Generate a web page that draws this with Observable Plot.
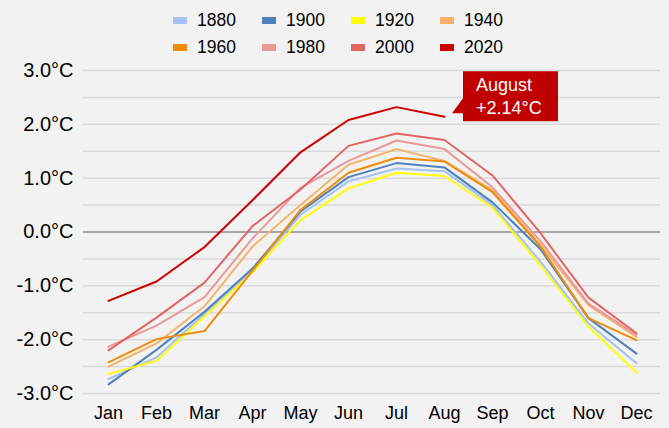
<!DOCTYPE html>
<html><head><meta charset="utf-8">
<script src="https://cdn.jsdelivr.net/npm/d3@7"></script>
<script src="https://cdn.jsdelivr.net/npm/@observablehq/plot@0.6"></script>
<style>
html,body{margin:0;padding:0;background:#f2f2f2;}
body{width:669px;height:428px;overflow:hidden;font-family:"Liberation Sans",Arial,sans-serif;}
#legend{height:58px;box-sizing:border-box;padding-top:7px;padding-left:173px;display:grid;grid-template-columns:repeat(4,89px);grid-auto-rows:27px;}
.item{display:flex;align-items:center;font-size:17.5px;color:#000;white-space:nowrap;}
.sw{width:14px;height:7px;margin-right:10px;flex:none;}
#chart svg{display:block;}
</style></head><body>
<div id="legend"></div>
<div id="chart"></div>
<script>
const months = ["Jan","Feb","Mar","Apr","May","Jun","Jul","Aug","Sep","Oct","Nov","Dec"];
const years = ["1880","1900","1920","1940","1960","1980","2000","2020"];
const colors = ["#a4c2f4","#4f81bd","#ffff00","#f6b26b","#ee8c0a","#ea9999","#e06666","#cc0000"];
const yTicks = [-3,-2,-1,0,1,2,3];
const gridVals = [-3,-2.5,-2,-1.5,-1,-0.5,0.5,1,1.5,2,2.5,3];

const v1880 = [-2.73,-2.33,-1.52,-0.72,0.32,0.94,1.18,1.13,0.50,-0.55,-1.70,-2.44];
const v1900 = [-2.83,-2.19,-1.48,-0.68,0.38,1.02,1.28,1.20,0.55,-0.32,-1.60,-2.26];
const v1920 = [-2.64,-2.39,-1.57,-0.75,0.22,0.81,1.10,1.04,0.45,-0.62,-1.76,-2.61];
const v1940 = [-2.50,-2.07,-1.38,-0.27,0.50,1.25,1.54,1.32,0.78,-0.24,-1.36,-1.95];
const v1960 = [-2.42,-1.99,-1.84,-0.72,0.41,1.10,1.38,1.31,0.74,-0.27,-1.60,-2.01];
const v1980 = [-2.13,-1.74,-1.21,-0.12,0.82,1.32,1.70,1.54,0.83,-0.17,-1.33,-1.91];
const v2000 = [-2.20,-1.59,-0.94,0.11,0.79,1.60,1.83,1.71,1.05,-0.02,-1.22,-1.88];
const v2020 = [-1.28,-0.92,-0.28,0.59,1.48,2.08,2.32,2.14];

const noteMonth = "Aug";
const noteValue = 2.14;
const noteLines = ["August","+2.14°C"];

const series = [v1880,v1900,v1920,v1940,v1960,v1980,v2000,v2020];
const data = years.flatMap((yr,i)=>series[i].map((v,j)=>({year:yr, month:months[j], value:v})));

// legend
const lg = document.getElementById("legend");
years.forEach((yr,i)=>{
  const it = document.createElement("div"); it.className="item";
  const sw = document.createElement("span"); sw.className="sw"; sw.style.background=colors[i];
  it.appendChild(sw); it.appendChild(document.createTextNode(yr)); lg.appendChild(it);
});

const annotation = Plot.text([{month:noteMonth, value:noteValue}], {
  x:"month", y:"value",
  render(index, scales, values) {
    const i = index[0]; const px = values.x[i], py = values.y[i];
    const g = d3.create("svg:g");
    const bx = px+19, by = py-45, bw = 95;
    g.append("path")
      .attr("d", `M${bx},${by}H${bx+bw}V${py+5}H${bx}V${py-3}L${px+8},${py-3}L${bx},${py-18}Z`)
      .attr("fill","#c00000");
    g.append("text").attr("x",bx+13).attr("y",py-25).attr("fill","#fff")
      .attr("text-anchor","start").attr("font-size",18).text(noteLines[0]);
    g.append("text").attr("x",bx+13).attr("y",py-2).attr("fill","#fff")
      .attr("text-anchor","start").attr("font-size",18).text(noteLines[1]);
    return g.node();
  }
});

const chart = Plot.plot({
  width:669, height:370,
  marginLeft:83, marginRight:9, marginTop:12, marginBottom:35,
  style:{background:"transparent", fontFamily:"'Liberation Sans', Arial, sans-serif", color:"#000"},
  x:{type:"point", domain:months, padding:0.5},
  y:{domain:[-3,3]},
  color:{domain:years, range:colors},
  marks:[
    Plot.ruleY(gridVals,{stroke:"#d9d9d9", strokeWidth:1.5}),
    Plot.ruleY([0],{stroke:"#a6a6a6", strokeWidth:2}),
    Plot.axisY({ticks:yTicks, tickFormat:d=>d.toFixed(1)+"°C", tickSize:0, tickPadding:10, fontSize:20, label:null}),
    Plot.axisX({tickSize:0, tickPadding:13, fontSize:18, label:null}),
    Plot.lineY(data,{x:"month", y:"value", z:"year", stroke:"year", strokeWidth:2}),
    annotation
  ]
});
document.getElementById("chart").appendChild(chart);
</script>
</body></html>
